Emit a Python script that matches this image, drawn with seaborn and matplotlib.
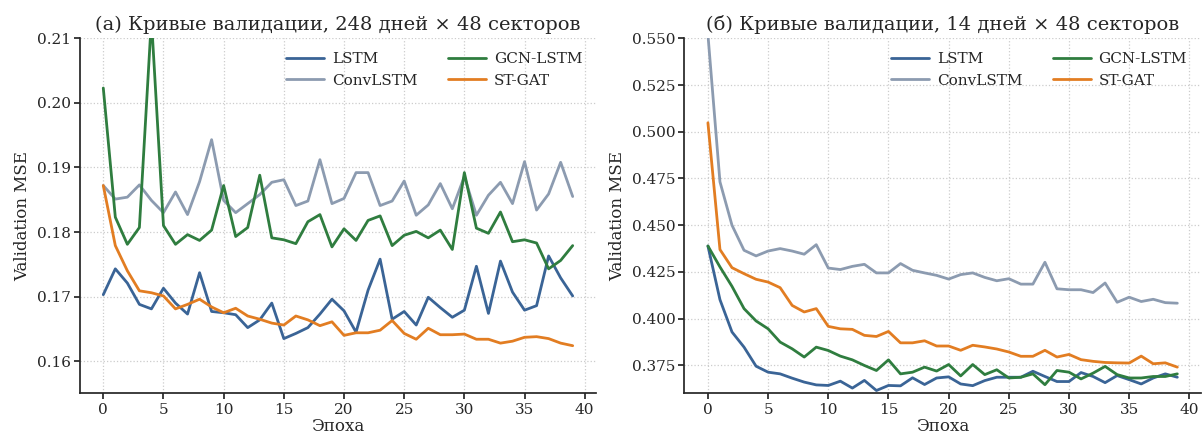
import numpy as np
import pandas as pd
import matplotlib
matplotlib.use("Agg")
import matplotlib.pyplot as plt
import seaborn as sns

epochs = list(range(40))
models = ["LSTM", "ConvLSTM", "GCN-LSTM", "ST-GAT"]
colors = {"LSTM": "#3a6496", "ConvLSTM": "#8c9bb0", "GCN-LSTM": "#2f7d3f", "ST-GAT": "#e27d22"}

# Panel (a): 248 days x 48 sectors
a_lstm = [0.1703, 0.1743, 0.1721, 0.1688, 0.1681, 0.1713, 0.1690, 0.1673, 0.1737, 0.1677,
          0.1675, 0.1672, 0.1652, 0.1664, 0.1690, 0.1635, 0.1643, 0.1652, 0.1673, 0.1696,
          0.1678, 0.1645, 0.1710, 0.1758, 0.1665, 0.1677, 0.1656, 0.1699, 0.1683, 0.1668,
          0.1679, 0.1747, 0.1674, 0.1755, 0.1707, 0.1679, 0.1686, 0.1763, 0.1729, 0.1701]
a_conv = [0.1872, 0.1851, 0.1854, 0.1873, 0.1849, 0.1830, 0.1862, 0.1827, 0.1878, 0.1943,
          0.1849, 0.1830, 0.1844, 0.1858, 0.1877, 0.1881, 0.1841, 0.1848, 0.1912, 0.1844,
          0.1852, 0.1892, 0.1892, 0.1841, 0.1848, 0.1879, 0.1826, 0.1842, 0.1875, 0.1836,
          0.1886, 0.1826, 0.1857, 0.1877, 0.1844, 0.1909, 0.1834, 0.1859, 0.1908, 0.1855]
a_gcn = [0.2023, 0.1823, 0.1781, 0.1807, 0.2130, 0.1810, 0.1781, 0.1796, 0.1787, 0.1803,
         0.1872, 0.1793, 0.1807, 0.1888, 0.1791, 0.1788, 0.1782, 0.1816, 0.1827, 0.1777,
         0.1805, 0.1787, 0.1818, 0.1825, 0.1779, 0.1795, 0.1801, 0.1791, 0.1803, 0.1773,
         0.1892, 0.1806, 0.1798, 0.1831, 0.1785, 0.1788, 0.1783, 0.1743, 0.1756, 0.1779]
a_stgat = [0.1872, 0.1779, 0.1740, 0.1709, 0.1706, 0.1701, 0.1681, 0.1688, 0.1696, 0.1684,
           0.1675, 0.1682, 0.1670, 0.1665, 0.1659, 0.1656, 0.1670, 0.1664, 0.1655, 0.1661,
           0.1640, 0.1644, 0.1644, 0.1648, 0.1663, 0.1643, 0.1634, 0.1651, 0.1641, 0.1641,
           0.1642, 0.1634, 0.1634, 0.1628, 0.1631, 0.1637, 0.1638, 0.1635, 0.1628, 0.1624]

# Panel (б): 14 days x 48 sectors
b_lstm = [0.4389, 0.4102, 0.3929, 0.3848, 0.3746, 0.3714, 0.3705, 0.3682, 0.3661, 0.3646,
          0.3643, 0.3666, 0.3629, 0.3670, 0.3616, 0.3643, 0.3641, 0.3684, 0.3648, 0.3683,
          0.3689, 0.3651, 0.3642, 0.3669, 0.3687, 0.3687, 0.3687, 0.3719, 0.3691, 0.3664,
          0.3664, 0.3712, 0.3691, 0.3658, 0.3696, 0.3674, 0.3651, 0.3683, 0.3705, 0.3687]
b_conv = [0.5520, 0.4732, 0.4500, 0.4366, 0.4336, 0.4362, 0.4375, 0.4362, 0.4345, 0.4396,
          0.4271, 0.4263, 0.4280, 0.4291, 0.4245, 0.4245, 0.4295, 0.4259, 0.4245, 0.4232,
          0.4212, 0.4236, 0.4245, 0.4221, 0.4203, 0.4214, 0.4185, 0.4185, 0.4302, 0.4160,
          0.4155, 0.4155, 0.4140, 0.4191, 0.4088, 0.4115, 0.4092, 0.4104, 0.4086, 0.4083]
b_gcn = [0.4389, 0.4277, 0.4173, 0.4054, 0.3988, 0.3946, 0.3875, 0.3839, 0.3795, 0.3848,
         0.3830, 0.3800, 0.3780, 0.3750, 0.3723, 0.3780, 0.3705, 0.3714, 0.3741, 0.3720,
         0.3755, 0.3694, 0.3755, 0.3701, 0.3727, 0.3683, 0.3687, 0.3705, 0.3647, 0.3723,
         0.3714, 0.3678, 0.3709, 0.3745, 0.3701, 0.3683, 0.3683, 0.3691, 0.3691, 0.3705]
b_stgat = [0.5048, 0.4370, 0.4273, 0.4241, 0.4211, 0.4196, 0.4166, 0.4071, 0.4036, 0.4054,
           0.3959, 0.3946, 0.3943, 0.3911, 0.3905, 0.3932, 0.3871, 0.3871, 0.3882, 0.3854,
           0.3854, 0.3831, 0.3858, 0.3849, 0.3838, 0.3822, 0.3799, 0.3799, 0.3831, 0.3795,
           0.3809, 0.3781, 0.3772, 0.3766, 0.3764, 0.3763, 0.3800, 0.3759, 0.3764, 0.3741]

titles = ["(а) Кривые валидации, 248 дней × 48 секторов",
          "(б) Кривые валидации, 14 дней × 48 секторов"]
xlabel = "Эпоха"
ylabel = "Validation MSE"


def make_df(series):
    rows = []
    for name, vals in zip(models, series):
        for e, v in zip(epochs, vals):
            rows.append({"epoch": e, "mse": v, "model": name})
    return pd.DataFrame(rows)


df_a = make_df([a_lstm, a_conv, a_gcn, a_stgat])
df_b = make_df([b_lstm, b_conv, b_gcn, b_stgat])

sns.set_theme(style="ticks")
plt.rcParams["font.family"] = ["DejaVu Serif"]

fig, axes = plt.subplots(1, 2, figsize=(12.02, 4.38), dpi=100)
fig.subplots_adjust(left=0.0664, right=0.999, top=0.9126, bottom=0.1016, wspace=0.171)

for ax, df, title, ylim, yticks in [
    (axes[0], df_a, titles[0], (0.155, 0.21), [0.16, 0.17, 0.18, 0.19, 0.20, 0.21]),
    (axes[1], df_b, titles[1], (0.36, 0.55), [0.375, 0.400, 0.425, 0.450, 0.475, 0.500, 0.525, 0.550]),
]:
    sns.lineplot(data=df, x="epoch", y="mse", hue="model", hue_order=models,
                 palette=colors, linewidth=2.0, ax=ax)
    ax.set_ylim(*ylim)
    ax.set_yticks(yticks)
    if ylim[0] > 0.3:
        ax.set_yticklabels([f"{t:.3f}" for t in yticks])
    else:
        ax.set_yticklabels([f"{t:.2f}" for t in yticks])
    ax.set_xticks([0, 5, 10, 15, 20, 25, 30, 35, 40])
    ax.set_xlim(-1.95, 40.95)
    ax.grid(True, linestyle=":", color="#cccccc", linewidth=0.9)
    ax.set_title(title, fontsize=14, pad=6)
    ax.set_xlabel(xlabel, fontsize=12, labelpad=1)
    ax.set_ylabel(ylabel, fontsize=12)
    ax.tick_params(labelsize=11, length=4, pad=2.5)
    sns.despine(ax=ax)
    leg = ax.legend(loc="upper right", ncol=2, frameon=False, fontsize=11,
                    columnspacing=2.0, handlelength=2.5, handletextpad=0.5)

fig.savefig("out.png", dpi=100)
